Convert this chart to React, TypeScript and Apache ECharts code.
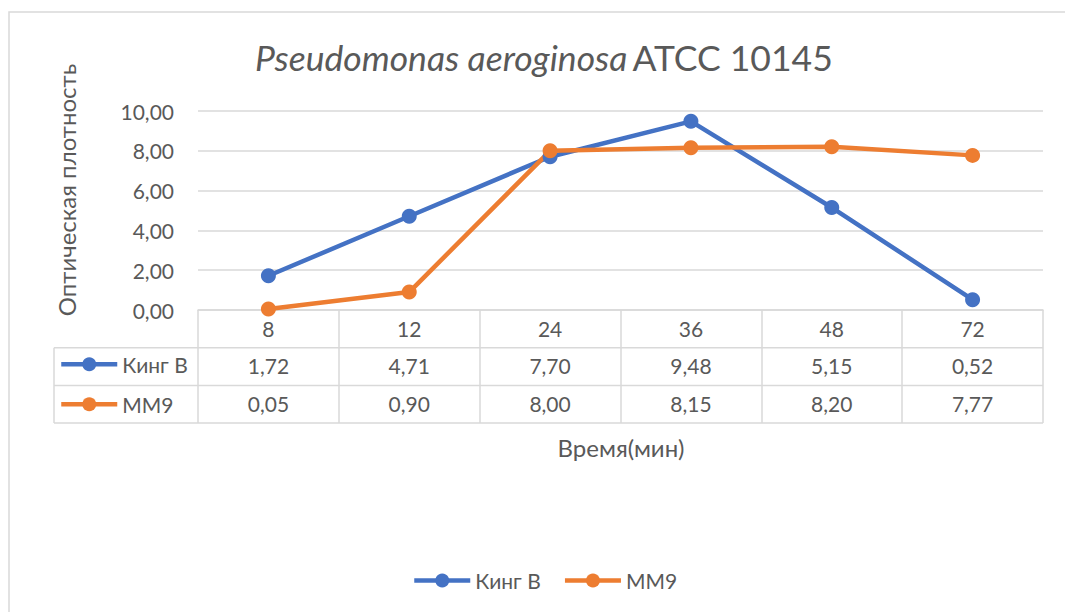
import React, { useEffect, useRef } from "react";
import * as echarts from "echarts";

const categories = ["8", "12", "24", "36", "48", "72"];
const kingB = [1.72, 4.71, 7.7, 9.48, 5.15, 0.52];
const mm9 = [0.05, 0.9, 8.0, 8.15, 8.2, 7.77];
const seriesNames = ["Кинг В", "ММ9"];
const yTicks = { min: 0, max: 10, interval: 2 };

const FONT = "Lato, 'Open Sans', sans-serif";
const TXT = "#595959";
const GRID = "#d9d9d9";
const BLUE = "#4472C4";
const ORANGE = "#ED7D31";

const fmt = (v: number) => v.toFixed(2).replace(".", ",");

export default function App() {
  const ref = useRef<HTMLDivElement>(null);
  useEffect(() => {
    document.body.style.margin = "0";
    const chart = echarts.init(ref.current!, undefined, { renderer: "svg" });
    const gridLeft = 198;
    const gridRight = 1043;
    const gridTop = 111;
    const gridBottom = 310;
    const rowH = 37.7;
    const tableLeft = 54;

    const valueAxis = (data: string[], offset: number) => ({
      type: "category",
      gridIndex: 0,
      position: "bottom",
      offset,
      data,
      axisLine: { show: false },
      axisTick: { show: false },
      splitLine: { show: false },
      axisLabel: {
        color: TXT,
        fontFamily: FONT,
        fontSize: 21,
        margin: 18,
        verticalAlign: "middle",
        interval: 0,
      },
    });

    const legendCommon = {
      data: seriesNames,
      itemWidth: 56,
      itemHeight: 17.5,
      lineStyle: { width: 4.5 },
      textStyle: { color: TXT, fontFamily: FONT, fontSize: 21 },
      selectedMode: false,
    };

    chart.setOption({
      animation: false,
      backgroundColor: "#ffffff",
      title: {
        left: 250,
        top: 34,
        text: "{i|Pseudomonas aeroginosa} {n|ATCC 10145}",
        textStyle: {
          fontWeight: "normal",
          rich: {
            i: { fontFamily: FONT, fontSize: 35.5, fontStyle: "italic", fontWeight: "normal", color: TXT },
            n: { fontFamily: FONT, fontSize: 35.5, fontWeight: "normal", color: TXT },
          },
        },
      },
      grid: {
        left: gridLeft,
        right: 1065 - gridRight,
        top: gridTop,
        bottom: 612 - gridBottom,
        containLabel: false,
      },
      legend: [
        {
          ...legendCommon,
          left: 407,
          top: 565,
          itemGap: 22,
        },
        {
          ...legendCommon,
          orient: "vertical",
          left: tableLeft + 5,
          top: gridBottom + rowH + 6,
          padding: 0,
          itemGap: 19,
        },
      ],
      xAxis: [
        {
          type: "category",
          data: categories,
          boundaryGap: true,
          axisLine: { show: true, lineStyle: { color: GRID, width: 1.5 } },
          axisTick: {
            show: true,
            inside: false,
            length: rowH * 3,
            lineStyle: { color: GRID, width: 1.5 },
          },
          axisLabel: {
            color: TXT,
            fontFamily: FONT,
            fontSize: 21,
            margin: 18,
            verticalAlign: "middle",
            interval: 0,
          },
        },
        valueAxis(kingB.map(fmt), rowH),
        valueAxis(mm9.map(fmt), rowH * 2),
      ],
      yAxis: {
        type: "value",
        min: yTicks.min,
        max: yTicks.max,
        interval: yTicks.interval,
        axisLine: { show: false },
        axisTick: { show: false },
        splitLine: { lineStyle: { color: GRID, width: 1.5 } },
        axisLabel: {
          color: TXT,
          fontFamily: FONT,
          fontSize: 21,
          margin: 24,
          formatter: (v: number) => fmt(v),
        },
      },
      series: [
        {
          name: seriesNames[0],
          type: "line",
          data: kingB,
          xAxisIndex: 0,
          color: BLUE,
          symbol: "circle",
          symbolSize: 15,
          lineStyle: { width: 4.5, color: BLUE },
          itemStyle: { color: BLUE },
        },
        {
          name: seriesNames[1],
          type: "line",
          data: mm9,
          xAxisIndex: 0,
          color: ORANGE,
          symbol: "circle",
          symbolSize: 15,
          lineStyle: { width: 4.5, color: ORANGE },
          itemStyle: { color: ORANGE },
        },
      ],
      graphic: [
        {
          type: "rect",
          silent: true,
          shape: { x: 9, y: 12, width: 1100, height: 700 },
          style: { fill: "none", stroke: GRID, lineWidth: 1.5 },
        },
        ...[1, 2, 3].map((k) => ({
          type: "line",
          silent: true,
          shape: { x1: tableLeft, y1: gridBottom + rowH * k, x2: gridRight, y2: gridBottom + rowH * k },
          style: { stroke: GRID, lineWidth: 1.5 },
        })),
        {
          type: "line",
          silent: true,
          shape: { x1: tableLeft, y1: gridBottom + rowH, x2: tableLeft, y2: gridBottom + rowH * 3 },
          style: { stroke: GRID, lineWidth: 1.5 },
        },
        {
          type: "text",
          x: 66,
          y: 190,
          rotation: Math.PI / 2,
          style: {
            text: "Оптическая плотность",
            fill: TXT,
            font: `24px ${FONT}`,
            align: "center",
            verticalAlign: "middle",
          },
        },
        {
          type: "text",
          x: 621,
          y: 447,
          style: {
            text: "Время(мин)",
            fill: TXT,
            font: `24px ${FONT}`,
            align: "center",
            verticalAlign: "middle",
          },
        },
      ],
    });
    return () => chart.dispose();
  }, []);
  return <div ref={ref} style={{ width: 1065, height: 612 }} />;
}
